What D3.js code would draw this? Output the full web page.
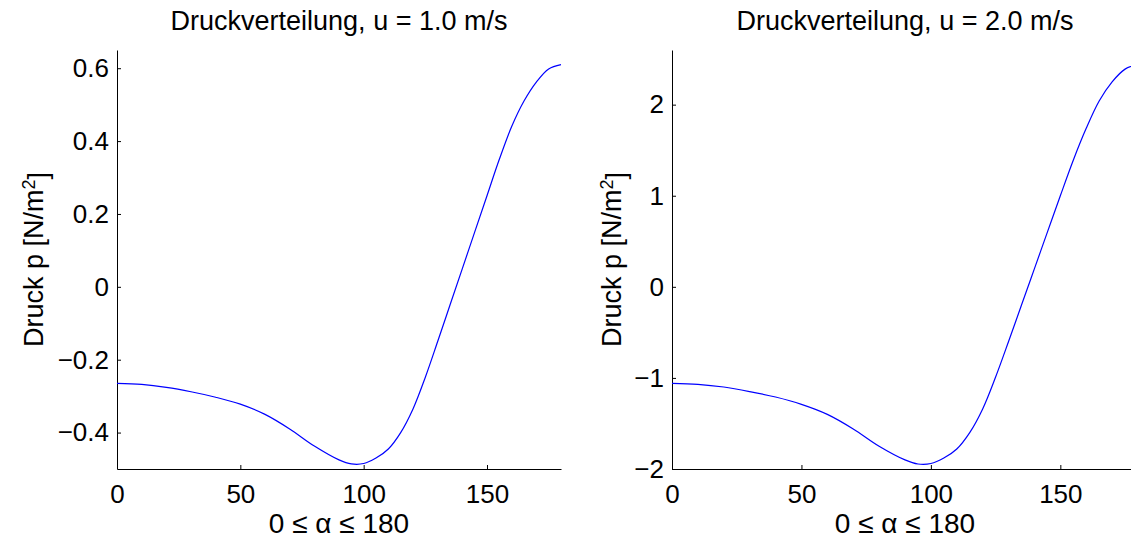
<!DOCTYPE html>
<html>
<head>
<meta charset="utf-8" />
<title>Druckverteilung</title>
<script src="https://d3js.org/d3.v7.min.js"></script>
<style>
    body { margin: 0; background: #fff; }
    svg { font-family: "Liberation Sans", Arial, sans-serif; }
    .line { fill: none; stroke: #0000ff; stroke-width: 1.2; }
    .axis path, .axis line { stroke: #000; }
    .axis text { font-size: 26px; fill: #000; }
</style>
</head>
<body>
<svg id="chart" width="1131" height="538"></svg>
<script>
// angle alpha in degrees
var alpha = [0, 10, 20, 30, 40, 50, 60, 70, 80, 90, 95, 100, 105, 110, 115, 120, 125, 130, 135, 140, 145, 150, 155, 160, 165, 170, 175, 180];
// pressure at u = 1.0 m/s
var p1 = [-0.265, -0.268, -0.276, -0.288, -0.303, -0.322, -0.350, -0.390, -0.437, -0.475, -0.486, -0.485, -0.470, -0.445, -0.400, -0.335, -0.248, -0.15, -0.05, 0.05, 0.15, 0.25, 0.35, 0.44, 0.51, 0.562, 0.598, 0.61];
// pressure at u = 2.0 m/s
var p2 = [-1.06, -1.07, -1.10, -1.15, -1.21, -1.29, -1.40, -1.56, -1.75, -1.90, -1.945, -1.94, -1.88, -1.78, -1.60, -1.34, -0.99, -0.60, -0.20, 0.20, 0.60, 1.00, 1.39, 1.74, 2.04, 2.25, 2.39, 2.44];

var xTicks = [0, 50, 100, 150];
var yTicks1 = [-0.4, -0.2, 0, 0.2, 0.4, 0.6];
var yTicks2 = [-2, -1, 0, 1, 2];

var f1 = d3.format('.1f');
var panels = [
    { title: 'Druckverteilung, u = 1.0 m/s', p: p1, yDomain: [-0.5, 0.65], yTicks: yTicks1,
      fmt: function (d) { return d === 0 ? '0' : f1(d); }, left: 117, right: 561, ylabX: 43 },
    { title: 'Druckverteilung, u = 2.0 m/s', p: p2, yDomain: [-2, 2.6], yTicks: yTicks2,
      fmt: d3.format('d'), left: 672, right: 1138, ylabX: 621 }
];

var plotTop = 50, plotBottom = 469;
var svg = d3.select('#chart');

panels.forEach(function (cfg) {
    var x = d3.scaleLinear().domain([0, 180]).range([cfg.left, cfg.right]);
    var y = d3.scaleLinear().domain(cfg.yDomain).range([plotBottom, plotTop]);

    var g = svg.append('g');

    g.append('g')
        .attr('class', 'axis')
        .attr('transform', `translate(0,${plotBottom})`)
        .call(d3.axisBottom(x).tickValues(xTicks).tickSizeInner(-4).tickSizeOuter(0).tickPadding(16))
        .call(function (s) { s.selectAll('text').attr('dy', '0.71em'); });

    g.append('g')
        .attr('class', 'axis')
        .attr('transform', `translate(${cfg.left},0)`)
        .call(d3.axisLeft(y).tickValues(cfg.yTicks).tickFormat(cfg.fmt).tickSizeInner(-4).tickSizeOuter(0).tickPadding(8));

    var line = d3.line()
        .x(function (d, i) { return x(alpha[i]); })
        .y(function (d) { return y(d); })
        .curve(d3.curveCatmullRom.alpha(0.5));

    g.append('path')
        .datum(cfg.p)
        .attr('class', 'line')
        .attr('d', line);

    var cx = (cfg.left + cfg.right) / 2;

    g.append('text')
        .attr('x', cx)
        .attr('y', 30)
        .attr('text-anchor', 'middle')
        .style('font-size', '27px')
        .text(cfg.title);

    g.append('text')
        .attr('x', cx)
        .attr('y', 533)
        .attr('text-anchor', 'middle')
        .style('font-size', '28px')
        .text('0 \u2264 \u03b1 \u2264 180');

    var yl = g.append('text')
        .attr('transform', `translate(${cfg.ylabX},${(plotTop + plotBottom) / 2}) rotate(-90)`)
        .attr('text-anchor', 'middle')
        .style('font-size', '27px');
    yl.append('tspan').text('Druck p [N/m');
    yl.append('tspan').attr('dy', '-0.45em').style('font-size', '18px').text('2');
    yl.append('tspan').attr('dy', '0.45em').text(']');
});
</script>
</body>
</html>
